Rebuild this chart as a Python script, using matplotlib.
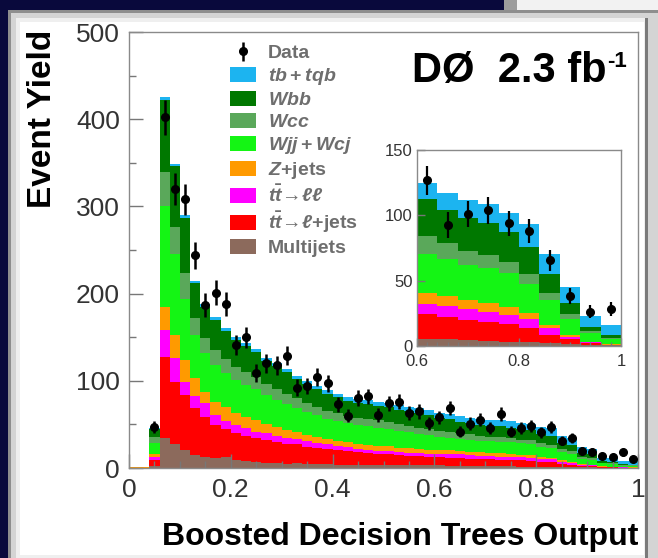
import numpy as np
import matplotlib
matplotlib.use("Agg")
import matplotlib.pyplot as plt
from matplotlib.patches import Rectangle, Patch
from matplotlib.ticker import MultipleLocator, FormatStrFormatter

plt.rcParams['font.family'] = ['Liberation Sans', 'DejaVu Sans']
plt.rcParams['mathtext.fontset'] = 'custom'
plt.rcParams['mathtext.rm'] = 'Liberation Sans:bold'
plt.rcParams['mathtext.it'] = 'Liberation Sans:italic:bold'
plt.rcParams['mathtext.bf'] = 'Liberation Sans:bold'

# BDT output, 50 bins of width 0.02
bin_edges = np.linspace(0.0, 1.0, 51)

multijets = [0, 0, 2, 34, 28, 21, 15, 13, 11, 13,
             9, 8.5, 7, 6, 5.5, 5, 6, 5, 4.5, 5,
             4, 4, 3.5, 3.5, 3.5, 3.5, 3, 3, 3, 3,
             2.9, 2.8, 2.6, 2.5, 2.2, 2.2, 2.0, 1.9, 1.7, 1.6,
             1.4, 1.4, 1.2, 1.1, 0.7, 0.6, 0.4, 0.4, 0.2, 0.2]
tt_ljets = [0, 0, 7, 93, 71, 63, 53.6, 46, 38.4, 31.8,
            30.6, 28.3, 27, 26, 24, 22.5, 21, 19.5, 18.5, 17,
            16.5, 15.5, 14.5, 13.5, 12.5, 12, 11.5, 11, 10.5, 10,
            9.5, 9.2, 8.6, 8.2, 7.8, 7.6, 7.4, 7.2, 7.1, 6.8,
            5.8, 5.0, 3.4, 2.8, 2.1, 1.7, 0.8, 0.7, 0.3, 0.2]
tt_ll = [0, 0, 3.5, 31.6, 27, 15, 13.4, 15.3, 11.6, 9.4,
         9.6, 8.8, 7.8, 8, 7.5, 7, 6, 6, 5.5, 5,
         5, 4.5, 4, 4, 4, 3.8, 3.7, 3.6, 3.5, 3.4,
         3.8, 4.0, 4.6, 4.4, 4.2, 4.0, 3.7, 3.5, 3.3, 3.2,
         3.6, 3.4, 2.8, 2.3, 1.2, 0.9, 0.5, 0.3, 0.1, 0.1]
zjets = [1, 1, 3, 26, 26, 25, 21, 13.4, 15, 15.5,
         13.6, 13.4, 13.2, 11, 10, 9, 8, 7.5, 7, 6,
         6, 6, 6, 5.5, 5.5, 5.5, 5, 5, 4.5, 4.5,
         4.3, 4.2, 3.7, 3.5, 3.6, 3.4, 3.7, 3.5, 3.0, 2.9,
         2.3, 2.1, 1.4, 1.2, 0.7, 0.6, 0.1, 0.1, 0.1, 0.1]
wjj_wcj = [0, 0, 13.5, 116.3, 93, 70, 49, 44, 42.3, 39.3,
           37.9, 36.5, 35.1, 32.4, 31.5, 29.9, 27.7, 26.3, 24.8, 23.4,
           22.3, 21.2, 21.2, 21.2, 20.7, 20.3, 19.0, 18.2, 17.4, 16.5,
           14.9, 14.6, 14.3, 14.0, 13.5, 13.3, 13.5, 13.3, 13.2, 13.0,
           11.5, 11.1, 9.8, 9.2, 6.0, 5.8, 3.6, 3.4, 2.0, 1.8]
wcc = [0, 0, 6, 39, 31, 30, 20, 17.5, 17, 15.7,
       15.2, 14.6, 14, 13, 12.6, 12, 11.1, 10.5, 9.9, 9.4,
       8.9, 8.5, 8.5, 8.5, 8.3, 8.1, 7.9, 7.6, 7.5, 7.1,
       7.0, 6.9, 6.4, 6.2, 5.5, 5.3, 5.0, 4.8, 4.3, 4.2,
       3.9, 3.8, 2.8, 2.7, 2.1, 2.0, 0.7, 0.6, 0.7, 0.6]
wbb = [0, 0, 10, 82, 70, 63, 40, 35.8, 34.7, 32.3,
       31.1, 29.9, 28.9, 26.6, 25.9, 24.6, 22.7, 21.7, 20.3, 19.2,
       18.3, 17.3, 17.3, 17.3, 17, 16.8, 16.9, 16.6, 16.6, 16.0,
       14.5, 14.1, 12.8, 12.4, 12.8, 12.4, 12.3, 12.1, 11.7, 11.5,
       10.2, 9.9, 7.3, 6.8, 4.3, 4.0, 1.7, 1.6, 1.1, 1.0]
tb_tqb = [0, 0, 1, 3, 3, 3, 3, 3, 3, 3,
          3, 3, 3, 3, 3, 3, 3.5, 3.5, 3.5, 4,
          4, 4, 4, 4.5, 4.5, 5, 5, 5.5, 5.5, 6,
          6.0, 6.1, 6.5, 6.6, 6.9, 7.0, 7.4, 7.5, 7.3, 7.3,
          8.8, 9.2, 7.9, 7.8, 6.5, 6.3, 3.9, 3.8, 3.8, 3.7]
data = [0, 0, 47, 402, 320, 308, 244, 187, 201, 188,
        141, 150, 109, 120, 118, 129, 92, 94, 104, 97,
        73, 60, 80, 82, 61, 74, 76, 63.5, 64.8, 51.3,
        58.2, 68.6, 41.8, 50.8, 55.4, 45.5, 62, 41.7, 46, 47.9,
        41, 47, 31.5, 34.1, 19.6, 18.5, 13.5, 12.7, 17.8, 10.5]

# stacking order, bottom first
processes = [
    (multijets, '#8c6a5c', 'Multijets'),
    (tt_ljets, '#ff0000', r'$t\bar{t}\!\rightarrow\!\ell$+jets'),
    (tt_ll, '#ff00ff', r'$t\bar{t}\!\rightarrow\!\ell\ell$'),
    (zjets, '#ff9a00', r'$Z$+jets'),
    (wjj_wcj, '#14f514', r'$Wjj+Wcj$'),
    (wcc, '#5aa85a', r'$Wcc$'),
    (wbb, '#007800', r'$Wbb$'),
    (tb_tqb, '#1cb4f0', r'$tb+tqb$'),
]

W, H = 658, 558
fig = plt.figure(figsize=(W / 100, H / 100), dpi=100)
fig.patch.set_facecolor('#09093c')


def box(x0, y0, x1, y1, color):
    fig.add_artist(Rectangle((x0 / W, 1 - y1 / H), (x1 - x0) / W, (y1 - y0) / H,
                             transform=fig.transFigure, facecolor=color,
                             edgecolor='none', zorder=-5))


# bevelled slide frame
box(504, 0, W, 10, '#f2f2f2')
box(504, 0, 517, 10, '#9c9c9c')
box(8, 10, W, H, '#8e8e8e')
box(11, 13, W, H, '#d4d4d4')
box(16, 18, 648, H, '#efefef')
box(20, 22, 644, 555, 'white')
box(645, 18, 648, H, '#7a7a7a')

tick_col = '#777777'


def style_axes(a, size, major, minor):
    for s in a.spines.values():
        s.set_color('#8a8a8a')
        s.set_linewidth(1.0)
    a.tick_params(which='both', direction='in', colors=tick_col,
                  labelcolor='#333333', top=False, right=False)
    a.tick_params(which='major', length=major, width=1.0, labelsize=size)
    a.tick_params(which='minor', length=minor, width=1.0)


def draw_stack(a, edges, comps):
    base = np.zeros(len(edges) - 1)
    for vals, col, _ in comps:
        top = base + np.asarray(vals, dtype=float)
        a.stairs(top, edges, baseline=base, fill=True, color=col,
                 linewidth=0, zorder=1)
        base = top


# main panel
ax = fig.add_axes([129 / W, 1 - 468 / H, 509 / W, 436 / H])
draw_stack(ax, bin_edges, processes)
centers = 0.5 * (bin_edges[:-1] + bin_edges[1:])
d = np.asarray(data, dtype=float)
m = d > 0
eb = ax.errorbar(centers[m], d[m], yerr=np.sqrt(d[m]), fmt='o', color='black',
                 ms=5.5, elinewidth=1.8, capsize=0, zorder=3)
ax.set_xlim(0, 1)
ax.set_ylim(0, 500)
ax.xaxis.set_major_locator(MultipleLocator(0.2))
ax.xaxis.set_minor_locator(MultipleLocator(0.05))
ax.yaxis.set_major_locator(MultipleLocator(100))
ax.yaxis.set_minor_locator(MultipleLocator(50))
ax.xaxis.set_major_formatter(FormatStrFormatter('%g'))
style_axes(ax, 19, 10, 5)
ax.tick_params(axis='y', pad=6.5)
ax.tick_params(axis='x', pad=7.5)

handles = [eb] + [Patch(facecolor=c, edgecolor='none') for _, c, _ in processes[::-1]]
labels = ['Data'] + [lab for _, _, lab in processes[::-1]]
leg = ax.legend(handles, labels, loc='upper left', bbox_to_anchor=(0.198, 0.972),
                frameon=False, prop={'weight': 'bold', 'size': 14},
                labelcolor='#6e6e6e', labelspacing=0.2, handlelength=1.35,
                handleheight=0.8, handletextpad=0.6, borderpad=0, borderaxespad=0)

# experiment tag with a small raised "-1"
tag = ax.text(0.9385, 0.886, 'DØ  2.3 fb', transform=ax.transAxes,
              ha='right', va='baseline', fontsize=30, fontweight='bold', color='black')
ax.annotate('-1', xy=(1.0, 1.0), xycoords=tag, ha='left', va='top',
            fontsize=16, fontweight='bold', color='black')

# zoomed high-output region, 0.04 wide bins
ax_in = fig.add_axes([417 / W, 1 - 346 / H, 204 / W, 196 / H])
in_edges = bin_edges[30::2]
in_comps = [(np.asarray(v[30:], dtype=float).reshape(-1, 2).sum(axis=1), c, lab)
            for v, c, lab in processes]
draw_stack(ax_in, in_edges, in_comps)
d_in = d[30:].reshape(-1, 2).sum(axis=1)
ax_in.errorbar(0.5 * (in_edges[:-1] + in_edges[1:]), d_in, yerr=np.sqrt(d_in),
               fmt='o', color='black', ms=5.5, elinewidth=1.6, capsize=0, zorder=3)
ax_in.set_xlim(0.6, 1.0)
ax_in.set_ylim(0, 150)
ax_in.xaxis.set_major_locator(MultipleLocator(0.2))
ax_in.xaxis.set_minor_locator(MultipleLocator(0.02))
ax_in.yaxis.set_major_locator(MultipleLocator(50))
ax_in.xaxis.set_major_formatter(FormatStrFormatter('%g'))
style_axes(ax_in, 12, 6, 3)
ax_in.tick_params(axis='y', pad=3)
ax_in.tick_params(axis='x', pad=6)

fig.text(43 / W, 1 - 30 / H, 'Event Yield', rotation=90, ha='center', va='top',
         fontsize=24, fontweight='bold', color='black')
fig.text(638 / W, 1 - 545 / H, 'Boosted Decision Trees Output', ha='right',
         va='baseline', fontsize=23, fontweight='bold', color='black')

fig.savefig('out.png', dpi=100, facecolor=fig.get_facecolor())
